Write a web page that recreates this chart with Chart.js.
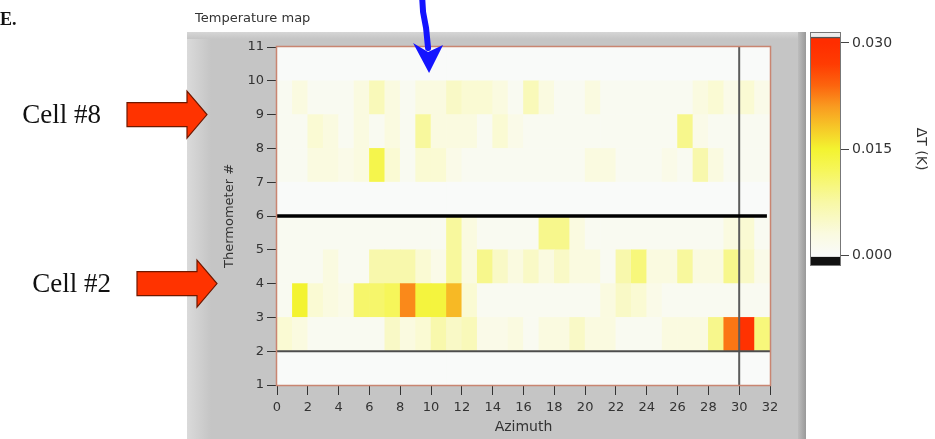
<!DOCTYPE html>
<html>
<head>
<meta charset="utf-8">
<title>Temperature map</title>
<script src="https://cdn.jsdelivr.net/npm/chart.js@4.4.1/dist/chart.umd.min.js"></script>
<style>
  html, body { margin: 0; padding: 0; background: #fff; }
  #wrap { position: relative; width: 935px; height: 439px; overflow: hidden; }
  #map { position: absolute; left: 0; top: 0; }
  #scale { position: absolute; left: 806px; top: 0; }
</style>
</head>
<body>
<div id="wrap">
  <canvas id="map" width="935" height="439" style="width:935px;height:439px"></canvas>
  <canvas id="scale" width="129" height="300" style="width:129px;height:300px"></canvas>
</div>
<script>
// Azimuth bins (left edge of each bin) and thermometer rows
const azimuthBins = [0,1,2,3,4,5,6,7,8,9,10,11,12,13,14,15,16,17,18,19,20,21,22,23,24,25,26,27,28,29,30,31];
const thermometers = [1,2,3,4,5,6,7,8,9,10];

// Axis tick labels
const azimuthTicks = [0,2,4,6,8,10,12,14,16,18,20,22,24,26,28,30,32];
const thermometerTicks = [1,2,3,4,5,6,7,8,9,10,11];
const scaleTicks = [0, 0.015, 0.030];
const scaleRange = [0, 0.030];

// ΔT (K) per azimuth bin, one list per thermometer
const dT_T1  = [0,0,0,0,0,0,0,0,0,0,0,0,0,0,0,0,0,0,0,0,0,0,0,0,0,0,0,0,0,0,0,0];
const dT_T2  = [0.004,0.003,0.001,0.001,0.001,0.001,0.001,0.005,0.003,0.004,0.007,0.005,0.006,0.002,0.002,0.003,0.001,0.003,0.003,0.005,0.003,0.003,0.001,0.001,0.001,0.003,0.003,0.003,0.009,0.023,0.029,0.010];
const dT_T3  = [0.001,0.015,0.004,0.003,0.002,0.011,0.011,0.012,0.022,0.014,0.014,0.019,0.004,0.001,0.001,0.001,0.001,0.001,0.001,0.001,0.001,0.003,0.005,0.004,0.002,0.001,0.001,0.001,0.001,0.001,0.001,0.001];
const dT_T4  = [0.001,0.001,0.001,0.003,0.001,0.001,0.007,0.007,0.007,0.004,0.002,0.008,0.003,0.009,0.005,0.003,0.005,0.003,0.005,0.003,0.003,0.001,0.007,0.010,0.003,0.003,0.008,0.003,0.003,0.009,0.005,0.002];
const dT_T5  = [0.001,0.001,0.001,0.001,0.001,0.001,0.001,0.001,0.001,0.001,0.001,0.008,0.003,0.001,0.001,0.001,0.001,0.009,0.009,0.003,0.001,0.001,0.001,0.001,0.001,0.001,0.001,0.001,0.001,0.003,0.004,0.001];
const dT_T6  = [0,0,0,0,0,0,0,0,0,0,0,0,0,0,0,0,0,0,0,0,0,0,0,0,0,0,0,0,0,0,0,0];
const dT_T7  = [0.001,0.001,0.003,0.003,0.002,0.003,0.013,0.004,0.001,0.004,0.004,0.002,0.001,0.001,0.001,0.001,0.001,0.001,0.001,0.001,0.003,0.003,0.001,0.001,0.001,0.002,0.001,0.007,0.003,0.001,0.001,0.001];
const dT_T8  = [0.001,0.001,0.004,0.003,0.001,0.003,0.001,0.003,0.001,0.008,0.003,0.003,0.003,0.001,0.004,0.002,0.001,0.001,0.001,0.001,0.001,0.001,0.001,0.001,0.001,0.001,0.009,0.002,0.001,0.001,0.001,0.001];
const dT_T9  = [0.001,0.003,0.001,0.001,0.001,0.003,0.006,0.003,0.001,0.003,0.003,0.005,0.004,0.004,0.003,0.001,0.006,0.003,0.001,0.001,0.003,0.001,0.001,0.001,0.001,0.001,0.001,0.003,0.004,0.002,0.004,0.002];
const dT_T10 = [0,0,0,0,0,0,0,0,0,0,0,0,0,0,0,0,0,0,0,0,0,0,0,0,0,0,0,0,0,0,0,0];
const dTRows = [dT_T1, dT_T2, dT_T3, dT_T4, dT_T5, dT_T6, dT_T7, dT_T8, dT_T9, dT_T10];

// Cursors: two horizontal (thermometer value, azimuth extent) and one vertical
const cursorRowA = 6,  cursorRowAExtent = [0, 31.8];
const cursorRowB = 2,  cursorRowBExtent = [0, 32];
const cursorAzimuth = 30, cursorAzimuthExtent = [1, 11];

// Side annotations
const cellLabels = ['Cell #8', 'Cell #2'];
const cellRows = [9, 4];
const markedAzimuth = 10;

// Colour ramp: white -> yellow -> orange -> red
const heatStops = [
  [0.00, [249,250,249]],
  [0.10, [250,250,224]],
  [0.25, [248,248,165]],
  [0.40, [246,246,90]],
  [0.50, [243,243,48]],
  [0.60, [246,200,40]],
  [0.70, [249,155,32]],
  [0.80, [252,100,14]],
  [0.90, [255,60,2]],
  [1.00, [255,45,0]]
];
function heatColor(v) {
  let t = (v - scaleRange[0]) / (scaleRange[1] - scaleRange[0]);
  t = Math.max(0, Math.min(1, t));
  for (let i = 1; i < heatStops.length; i++) {
    const [t1, c1] = heatStops[i];
    const [t0, c0] = heatStops[i - 1];
    if (t <= t1) {
      const f = (t - t0) / (t1 - t0);
      const c = c0.map((a, k) => Math.round(a + (c1[k] - a) * f));
      return `rgb(${c[0]},${c[1]},${c[2]})`;
    }
  }
  const c = heatStops[heatStops.length - 1][1];
  return `rgb(${c[0]},${c[1]},${c[2]})`;
}

Chart.defaults.font.family = '"DejaVu Sans", sans-serif';
Chart.defaults.font.size = 13;
Chart.defaults.color = '#333';

// One floating-bar row per thermometer; each bar spans one azimuth bin
const cellDatasets = thermometers.map((t, r) => ({
  type: 'bar',
  data: azimuthBins.map((a, i) => ({ x: a + 0.5, y: [t, t + 1], v: dTRows[r][i] })),
  backgroundColor: ctx => heatColor(ctx.raw ? ctx.raw.v : 0),
  borderWidth: 0,
  grouped: false,
  barPercentage: 1,
  categoryPercentage: 1,
  order: 2
}));

const cursorDatasets = [
  { type: 'line', data: [{ x: cursorRowAExtent[0], y: cursorRowA }, { x: cursorRowAExtent[1], y: cursorRowA }],
    borderColor: '#000', borderWidth: 3.5, pointRadius: 0, order: 0 },
  { type: 'line', data: [{ x: cursorRowBExtent[0], y: cursorRowB }, { x: cursorRowBExtent[1], y: cursorRowB }],
    borderColor: '#4d4d4d', borderWidth: 2, pointRadius: 0, order: 0 },
  { type: 'line', data: [{ x: cursorAzimuth, y: cursorAzimuthExtent[0] }, { x: cursorAzimuth, y: cursorAzimuthExtent[1] }],
    borderColor: '#5c5c5c', borderWidth: 2, pointRadius: 0, order: 0 }
];

// Grey instrument panel and plot background
const panelPlugin = {
  id: 'panel',
  beforeDraw(chart) {
    const { ctx, chartArea: a } = chart;
    const L = a.left - 90, T = a.top - 15, R = a.right + 36, B = chart.height;
    ctx.save();
    ctx.fillStyle = '#c5c5c5';
    ctx.fillRect(L, T, R - L, B - T);
    let g = ctx.createLinearGradient(L, 0, L + 24, 0);
    g.addColorStop(0, '#dadada'); g.addColorStop(1, '#c5c5c5');
    ctx.fillStyle = g; ctx.fillRect(L, T, 24, B - T);
    g = ctx.createLinearGradient(0, T, 0, T + 7);
    g.addColorStop(0, '#d6d6d6'); g.addColorStop(1, '#c5c5c5');
    ctx.fillStyle = g; ctx.fillRect(L, T, R - L, 7);
    g = ctx.createLinearGradient(R - 8, 0, R, 0);
    g.addColorStop(0, '#bdbdbd'); g.addColorStop(1, '#999');
    ctx.fillStyle = g; ctx.fillRect(R - 8, T, 8, B - T);
    ctx.fillStyle = '#f9faf9';
    ctx.fillRect(a.left, a.top, a.right - a.left, a.bottom - a.top);
    ctx.restore();
  },
  afterDatasetsDraw(chart) {
    const { ctx, chartArea: a } = chart;
    ctx.save();
    ctx.strokeStyle = '#c98571';
    ctx.lineWidth = 1.5;
    ctx.strokeRect(a.left - 0.5, a.top - 0.5, a.right - a.left + 1, a.bottom - a.top + 1);
    ctx.restore();
  }
};

// Title, cell labels and pointer arrows
const notesPlugin = {
  id: 'notes',
  afterDraw(chart) {
    const { ctx, chartArea: a, scales } = chart;
    ctx.save();
    ctx.fillStyle = '#111';
    ctx.font = 'bold 18px "Liberation Serif"';
    ctx.textBaseline = 'alphabetic';
    ctx.fillText('E.', 0, 25);

    ctx.fillStyle = '#333';
    ctx.font = '13px "DejaVu Sans"';
    ctx.textBaseline = 'middle';
    ctx.fillText('Temperature map', a.left - 82, 19);

    const insets = [70, 60];
    cellRows.forEach((row, i) => {
      const cy = scales.y.getPixelForValue(row);
      const tip = a.left - insets[i];
      ctx.beginPath();
      ctx.moveTo(tip - 80, cy - 12);
      ctx.lineTo(tip - 20, cy - 12);
      ctx.lineTo(tip - 20, cy - 23.5);
      ctx.lineTo(tip, cy);
      ctx.lineTo(tip - 20, cy + 23.5);
      ctx.lineTo(tip - 20, cy + 12);
      ctx.lineTo(tip - 80, cy + 12);
      ctx.closePath();
      ctx.fillStyle = '#ff3300';
      ctx.fill();
      ctx.strokeStyle = '#6e1800';
      ctx.lineWidth = 1.2;
      ctx.stroke();
      ctx.fillStyle = '#111';
      ctx.font = '27px "Liberation Serif"';
      ctx.textAlign = 'right';
      ctx.textBaseline = 'middle';
      ctx.fillText(cellLabels[i], tip - 106, cy + 1);
    });

    // blue pointer above the marked azimuth
    const xp = scales.x.getPixelForValue(markedAzimuth) - 2;
    ctx.strokeStyle = '#1414ff';
    ctx.lineWidth = 6;
    ctx.lineCap = 'round';
    ctx.beginPath();
    ctx.moveTo(xp - 7, -4);
    ctx.lineTo(xp - 6, 12);
    ctx.lineTo(xp - 3, 28);
    ctx.lineTo(xp - 1, 48);
    ctx.stroke();
    ctx.fillStyle = '#1414ff';
    ctx.beginPath();
    ctx.moveTo(xp - 16, 43);
    ctx.lineTo(xp - 1, 52);
    ctx.lineTo(xp + 14, 45);
    ctx.lineTo(xp, 73);
    ctx.closePath();
    ctx.fill();
    ctx.restore();
  }
};

new Chart(document.getElementById('map'), {
  type: 'bar',
  data: { datasets: [...cursorDatasets, ...cellDatasets] },
  options: {
    responsive: false,
    animation: false,
    events: [],
    layout: { padding: { left: 220, right: 165, top: 47, bottom: 2 } },
    plugins: { legend: { display: false }, tooltip: { enabled: false } },
    scales: {
      x: {
        type: 'linear', min: 0, max: 32, offset: false,
        grid: { drawOnChartArea: false, tickLength: 10, color: '#333', offset: false },
        border: { display: false },
        ticks: { autoSkip: false, maxRotation: 0, padding: 5, color: '#333' },
        afterBuildTicks: s => { s.ticks = azimuthTicks.map(v => ({ value: v })); },
        afterFit: s => { s.height = 52; s.paddingLeft = 0; s.paddingRight = 0; },
        title: { display: true, text: 'Azimuth', font: { size: 14 }, color: '#333', padding: { top: 0, bottom: 1 } }
      },
      y: {
        type: 'linear', min: 1, max: 11, beginAtZero: false,
        grid: { drawOnChartArea: false, tickLength: 10, color: '#333' },
        border: { display: false },
        ticks: { autoSkip: false, padding: 3, color: '#333' },
        afterBuildTicks: s => { s.ticks = thermometerTicks.map(v => ({ value: v })); },
        afterFit: s => { s.width = 57; s.paddingTop = 0; s.paddingBottom = 0; },
        title: { display: true, text: 'Thermometer #', font: { size: 13 }, color: '#333', padding: { top: 2, bottom: 0 } }
      }
    }
  },
  plugins: [panelPlugin, notesPlugin]
});

// Colour scale
const scaleFrame = {
  id: 'scaleFrame',
  afterDatasetsDraw(chart) {
    const { ctx, chartArea: a } = chart;
    ctx.save();
    ctx.strokeStyle = '#777';
    ctx.lineWidth = 1;
    ctx.strokeRect(a.left - 0.5, a.top - 0.5, a.right - a.left + 1, a.bottom - a.top + 1);
    ctx.restore();
  }
};
const rampFill = ctx => {
  const ch = ctx.chart;
  if (!ch.chartArea) return '#fff';
  const y = ch.scales.y;
  const g = ch.ctx.createLinearGradient(0, y.getPixelForValue(scaleRange[0]), 0, y.getPixelForValue(scaleRange[1]));
  heatStops.forEach(([t, c]) => g.addColorStop(t, `rgb(${c[0]},${c[1]},${c[2]})`));
  return g;
};
const stripOpts = { grouped: false, barPercentage: 1, categoryPercentage: 1, borderWidth: 0 };
new Chart(document.getElementById('scale'), {
  type: 'bar',
  data: {
    labels: ['ΔT'],
    datasets: [
      { ...stripOpts, data: [[-0.0014, -0.0003]], backgroundColor: '#111' },
      { ...stripOpts, data: [[-0.0003, 0.0306]], backgroundColor: rampFill },
      { ...stripOpts, data: [[0.0306, 0.0308]], backgroundColor: '#555' },
      { ...stripOpts, data: [[0.0308, 0.0314]], backgroundColor: '#eeeeee' }
    ]
  },
  options: {
    responsive: false,
    animation: false,
    events: [],
    layout: { padding: { left: 5, right: 4, top: 33, bottom: 35 } },
    plugins: { legend: { display: false }, tooltip: { enabled: false } },
    scales: {
      x: { display: false },
      y: {
        position: 'right', min: -0.0014, max: 0.0314, beginAtZero: false,
        grid: { drawOnChartArea: false, tickLength: 9, color: '#444' },
        border: { display: false },
        ticks: { padding: 3, color: '#333', font: { size: 14 }, callback: v => Number(v).toFixed(3) },
        afterBuildTicks: s => { s.ticks = scaleTicks.map(v => ({ value: v })); },
        afterFit: s => { s.width = 91; s.paddingTop = 0; s.paddingBottom = 0; },
        title: { display: true, text: 'ΔT (K)', font: { size: 14 }, color: '#333', padding: { top: 2, bottom: 0 } }
      }
    }
  },
  plugins: [scaleFrame]
});
</script>
</body>
</html>
